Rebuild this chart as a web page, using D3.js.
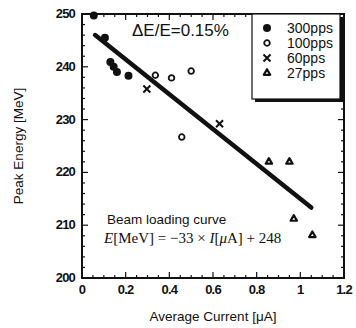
<!DOCTYPE html>
<html>
<head>
<meta charset="utf-8">
<script src="https://cdn.jsdelivr.net/npm/d3@7"></script>
<style>
  body { margin: 0; background: #fff; }
  text { font-family: "Liberation Sans", Arial, sans-serif; fill: #111; }
</style>
</head>
<body>
<div id="chart"></div>
<script>
// data
const pps300 = [[0.054, 249.7], [0.105, 245.5], [0.13, 240.9], [0.145, 240.0], [0.16, 239.0], [0.213, 238.3]];
const pps100 = [[0.336, 238.4], [0.41, 237.9], [0.50, 239.2], [0.457, 226.7]];
const pps60 = [[0.297, 235.8], [0.63, 229.2]];
const pps27 = [[0.856, 222.0], [0.95, 222.0], [0.97, 211.2], [1.055, 208.1]];
const fitSlope = -33, fitIntercept = 248;
const fitRange = [0.06, 1.05];
const xTicks = [0, 0.2, 0.4, 0.6, 0.8, 1, 1.2];
const yTicks = [200, 210, 220, 230, 240, 250];
const legendLabels = ['300pps', '100pps', '60pps', '27pps'];

const width = 356, height = 328;
const svg = d3.select('#chart').append('svg')
  .attr('width', width).attr('height', height);

const x = d3.scaleLinear().domain([0, 1.2]).range([82, 344]);
const y = d3.scaleLinear().domain([200, 250]).range([278, 14]);

// minor ticks
const xMinor = d3.range(0, 1.2001, 0.05);
const yMinor = d3.range(200, 250.001, 2);
const isMajorX = d => xTicks.some(t => Math.abs(t - d) < 1e-6);
const g = svg.append('g').attr('stroke', '#111').attr('stroke-width', 1.2);
g.selectAll('.xm').data(xMinor).join('line')
  .attr('x1', d => x(d)).attr('x2', d => x(d))
  .attr('y1', y(200)).attr('y2', d => y(200) - (isMajorX(d) ? 6 : 3));
g.selectAll('.xmt').data(xMinor).join('line')
  .attr('x1', d => x(d)).attr('x2', d => x(d))
  .attr('y1', y(250)).attr('y2', d => y(250) + (isMajorX(d) ? 6 : 3));
g.selectAll('.ym').data(yMinor).join('line')
  .attr('y1', d => y(d)).attr('y2', d => y(d))
  .attr('x1', x(0)).attr('x2', d => x(0) + (d % 10 === 0 ? 6 : 3));
g.selectAll('.ymr').data(yMinor).join('line')
  .attr('y1', d => y(d)).attr('y2', d => y(d))
  .attr('x1', x(1.2)).attr('x2', d => x(1.2) - (d % 10 === 0 ? 6 : 3));

// frame
svg.append('rect')
  .attr('x', x(0)).attr('y', y(250))
  .attr('width', x(1.2) - x(0)).attr('height', y(200) - y(250))
  .attr('fill', 'none').attr('stroke', '#111').attr('stroke-width', 2);

// tick labels
svg.selectAll('.xl').data(xTicks).join('text')
  .attr('x', d => x(d)).attr('y', y(200) + 16)
  .attr('text-anchor', 'middle')
  .attr('font-size', 13).attr('font-weight', 'bold').attr('letter-spacing', -0.8)
  .text(d => d3.format('~g')(d));
svg.selectAll('.yl').data(yTicks).join('text')
  .attr('x', x(0) - 7).attr('y', d => y(d) + 4)
  .attr('text-anchor', 'end')
  .attr('font-size', 13).attr('font-weight', 'bold').attr('letter-spacing', -0.8)
  .text(d => d);

// axis titles
svg.append('text')
  .attr('x', 213).attr('y', 321)
  .attr('text-anchor', 'middle').attr('font-size', 13.5)
  .text('Average Current [μA]');
svg.append('text')
  .attr('transform', `translate(23,${(y(200) + y(250)) / 2}) rotate(-90)`)
  .attr('text-anchor', 'middle').attr('font-size', 13.5)
  .text('Peak Energy [MeV]');

// fit line
svg.append('line')
  .attr('x1', x(fitRange[0])).attr('y1', y(fitSlope * fitRange[0] + fitIntercept))
  .attr('x2', x(fitRange[1])).attr('y2', y(fitSlope * fitRange[1] + fitIntercept))
  .attr('stroke', '#111').attr('stroke-width', 4.5).attr('stroke-linecap', 'round');

// markers
function drawMarker(sel, type) {
  if (type === 0) {
    sel.append('circle').attr('r', 4).attr('fill', '#111');
  } else if (type === 1) {
    sel.append('circle').attr('r', 2.8).attr('fill', '#fff').attr('stroke', '#111').attr('stroke-width', 1.8);
  } else if (type === 2) {
    sel.append('path').attr('d', 'M-3.5,-3.5L3.5,3.5M-3.5,3.5L3.5,-3.5')
      .attr('stroke', '#111').attr('stroke-width', 2).attr('fill', 'none');
  } else {
    sel.append('path').attr('d', d3.symbol(d3.symbolTriangle, 18)())
      .attr('fill', '#fff').attr('stroke', '#111').attr('stroke-width', 2.2)
      .attr('stroke-linejoin', 'round');
  }
}
[pps300, pps100, pps60, pps27].forEach((series, i) => {
  svg.append('g').selectAll('g').data(series).join('g')
    .attr('transform', d => `translate(${x(d[0])},${y(d[1])})`)
    .each(function() { drawMarker(d3.select(this), i); });
});

// delta E annotation
svg.append('text')
  .attr('x', 132).attr('y', 36).attr('font-size', 17)
  .text('ΔE/E=0.15%');

// legend
const lg = svg.append('g').attr('transform', 'translate(252,14)');
lg.append('rect').attr('x', 3).attr('y', 3).attr('width', 88).attr('height', 85).attr('fill', '#111');
lg.append('rect').attr('x', 0).attr('y', 0).attr('width', 88).attr('height', 85)
  .attr('fill', '#fff').attr('stroke', '#111').attr('stroke-width', 1.2);
legendLabels.forEach((lab, i) => {
  const row = lg.append('g').attr('transform', `translate(15,${14 + i * 15})`);
  drawMarker(row, i);
  row.append('text').attr('x', 20).attr('y', 5).attr('font-size', 14).text(lab);
});

// beam loading text
svg.append('text')
  .attr('x', 107).attr('y', 224).attr('font-size', 13.5)
  .text('Beam loading curve');
const eq = svg.append('text')
  .attr('x', 104).attr('y', 243).attr('font-size', 15)
  .style('font-family', '"Liberation Serif", "Times New Roman", serif');
eq.append('tspan').attr('font-style', 'italic').text('E');
eq.append('tspan').text('[MeV] = −33 × ');
eq.append('tspan').attr('font-style', 'italic').text('I');
eq.append('tspan').text('[');
eq.append('tspan').attr('font-style', 'italic').text('μ');
eq.append('tspan').text('A] + 248');
</script>
</body>
</html>
